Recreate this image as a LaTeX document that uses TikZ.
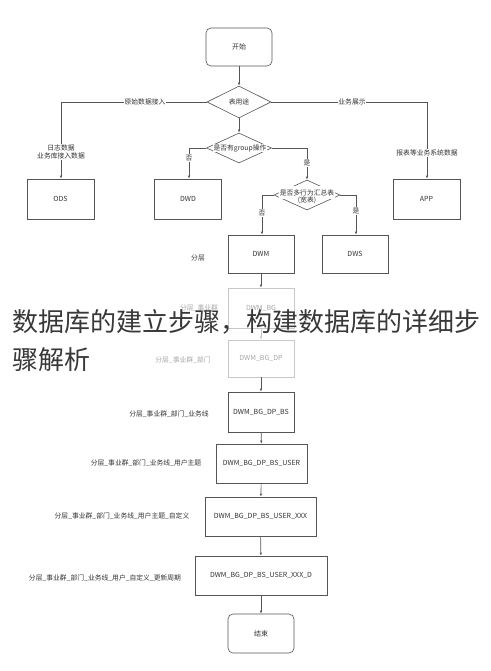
\documentclass[tikz,border=0pt]{standalone}
\usepackage{fontspec}
\newfontfamily\cjk{Noto Sans CJK SC}
\usetikzlibrary{shapes.geometric,arrows.meta}
\definecolor{ln}{HTML}{555555}
\definecolor{fadeln}{HTML}{C8C8C8}
\definecolor{fadetx}{HTML}{A8A8A8}
\definecolor{tx}{HTML}{333333}
\tikzset{
  box/.style={draw=ln,line width=0.6pt,inner sep=0pt,font=\cjk\fontsize{7}{8}\selectfont,text=tx},
  rbox/.style={box,rounded corners=5pt},
  fbox/.style={draw=fadeln,line width=0.6pt,inner sep=0pt,font=\cjk\fontsize{7}{8}\selectfont,text=fadetx},
  dia/.style={draw=ln,line width=0.6pt,diamond,inner sep=0pt},
  dtext/.style={font=\cjk\fontsize{6.8}{8.5}\selectfont,text=tx,inner sep=0.5pt,align=center},
  lab/.style={font=\cjk\fontsize{6.8}{8.5}\selectfont,text=tx,fill=white,inner sep=0.8pt,align=center},
  side/.style={font=\cjk\fontsize{6.8}{8}\selectfont,text=tx,inner sep=0pt},
  fside/.style={font=\cjk\fontsize{6.8}{8}\selectfont,text=fadetx,inner sep=0pt},
  conn/.style={draw=ln,line width=0.6pt,-{Latex[length=3pt,width=2.4pt]}},
  fconn/.style={draw=fadeln,line width=0.6pt,-{Latex[length=3pt,width=2.4pt]}},
  title/.style={font=\cjk\fontsize{26}{30}\selectfont,text=black!78,inner sep=0pt,anchor=base west}
}
\begin{document}
\begin{tikzpicture}[x=1pt,y=-1pt]
\fill[white] (0,0) rectangle (490,671);
\useasboundingbox (0,0) rectangle (490,671);

% nodes
\node[rbox,minimum width=66pt,minimum height=38pt] (start) at (239,47) {开始};
\node[dia,minimum width=64pt,minimum height=32pt] (d1) at (239,102) {};
\node[dtext] (d1t) at (d1) {表用途};
\node[dia,minimum width=65pt,minimum height=30pt] (d2) at (239,148) {};
\node[dtext,fill=white] (d2t) at (240,148) {是否有group操作};
\node[dia,minimum width=66pt,minimum height=30pt] (d3) at (307,195) {};
\node[dtext] (d3t) at (307,195) {\colorbox{white}{\kern-2pt 是否多行为汇总表\kern-2pt}\\[-3pt](宽表)};

\node[box,minimum width=67pt,minimum height=40pt] (ods) at (60.5,199) {ODS};
\node[box,minimum width=67pt,minimum height=40pt] (dwd) at (188,199) {DWD};
\node[box,minimum width=67pt,minimum height=40pt] (app) at (426.5,199) {APP};
\node[box,minimum width=66pt,minimum height=38pt] (dwm) at (261,254) {DWM};
\node[box,minimum width=66pt,minimum height=38pt] (dws) at (355,254) {DWS};
\node[fbox,minimum width=66pt,minimum height=40pt] (bg) at (261,308) {DWM\_BG};
\node[fbox,minimum width=66pt,minimum height=37pt] (bgdp) at (261,358.5) {DWM\_BG\_DP};
\node[box,minimum width=66pt,minimum height=40pt] (bs) at (261,412) {DWM\_BG\_DP\_BS};
\node[box,minimum width=91pt,minimum height=39pt] (user) at (261.5,463.5) {DWM\_BG\_DP\_BS\_USER};
\node[box,minimum width=111pt,minimum height=39pt] (xxx) at (260.5,516.5) {DWM\_BG\_DP\_BS\_USER\_XXX};
\node[box,minimum width=132pt,minimum height=39pt] (xxxd) at (261,575.5) {DWM\_BG\_DP\_BS\_USER\_XXX\_D};
\node[rbox,minimum width=66pt,minimum height=39pt] (end) at (261,633.5) {结束};

% side labels
\node[side] (l1) at (198,258) {分层};
\node[fside] (l2) at (199,308) {分层\_事业群};
\node[fside] (l3) at (183,360) {分层\_事业群\_部门};
\node[side] (l4) at (169,414) {分层\_事业群\_部门\_业务线};
\node[side] (l5) at (146,463) {分层\_事业群\_部门\_业务线\_用户主题};
\node[side] (l6) at (122,516) {分层\_事业群\_部门\_业务线\_用户主题\_自定义};
\node[side] (l7) at (105,578) {分层\_事业群\_部门\_业务线\_用户\_自定义\_更新周期};

% corner coordinates
\coordinate (c1) at (61,102);
\coordinate (c2) at (427,102);
\coordinate (c3) at (189,148);
\coordinate (c4) at (307,148);
\coordinate (c5) at (262,195);
\coordinate (c6) at (356,195);

% connectors
\draw[conn] (start) -- (d1);
\draw[conn] (d1) -- (d2);
\draw[conn] (d1.west) -- (c1) -- (ods.north -| c1);
\draw[conn] (d1.east) -- (c2) -- (app.north -| c2);
\draw[conn] (d2.west) -- (c3) -- (dwd.north -| c3);
\draw[conn] (d2.east) -- (c4) -- (d3.north);
\draw[conn] (d3.west) -- (c5) -- (dwm.north -| c5);
\draw[conn] (d3.east) -- (c6) -- (dws.north -| c6);
\draw[conn] (dwm) -- (bg);
\draw[fconn] (bg) -- (bgdp);
\draw[conn] (bgdp) -- (bs);
\draw[conn] (bs) -- (user);
\draw[conn] (user) -- (xxx);
\draw[conn] (xxx) -- (xxxd);
\draw[conn] (xxxd) -- (end);

% connector labels
\node[lab] (e1) at (145,102) {原始数据接入};
\node[lab] (e2) at (352,102) {业务展示};
\node[lab] (e3) at (61,152) {日志数据\\业务库接入数据};
\node[lab] (e4) at (427,153) {报表等业务系统数据};
\node[lab] (e5) at (189,158) {否};
\node[lab] (e6) at (307,163) {是};
\node[lab] (e7) at (262,213) {否};
\node[lab] (e8) at (356,211) {是};

% overlay title
\node[title] (t1) at (12,331) {数据库的建立步骤，构建数据库的详细步};
\node[title] (t2) at (12,369) {骤解析};
\end{tikzpicture}
\end{document}
